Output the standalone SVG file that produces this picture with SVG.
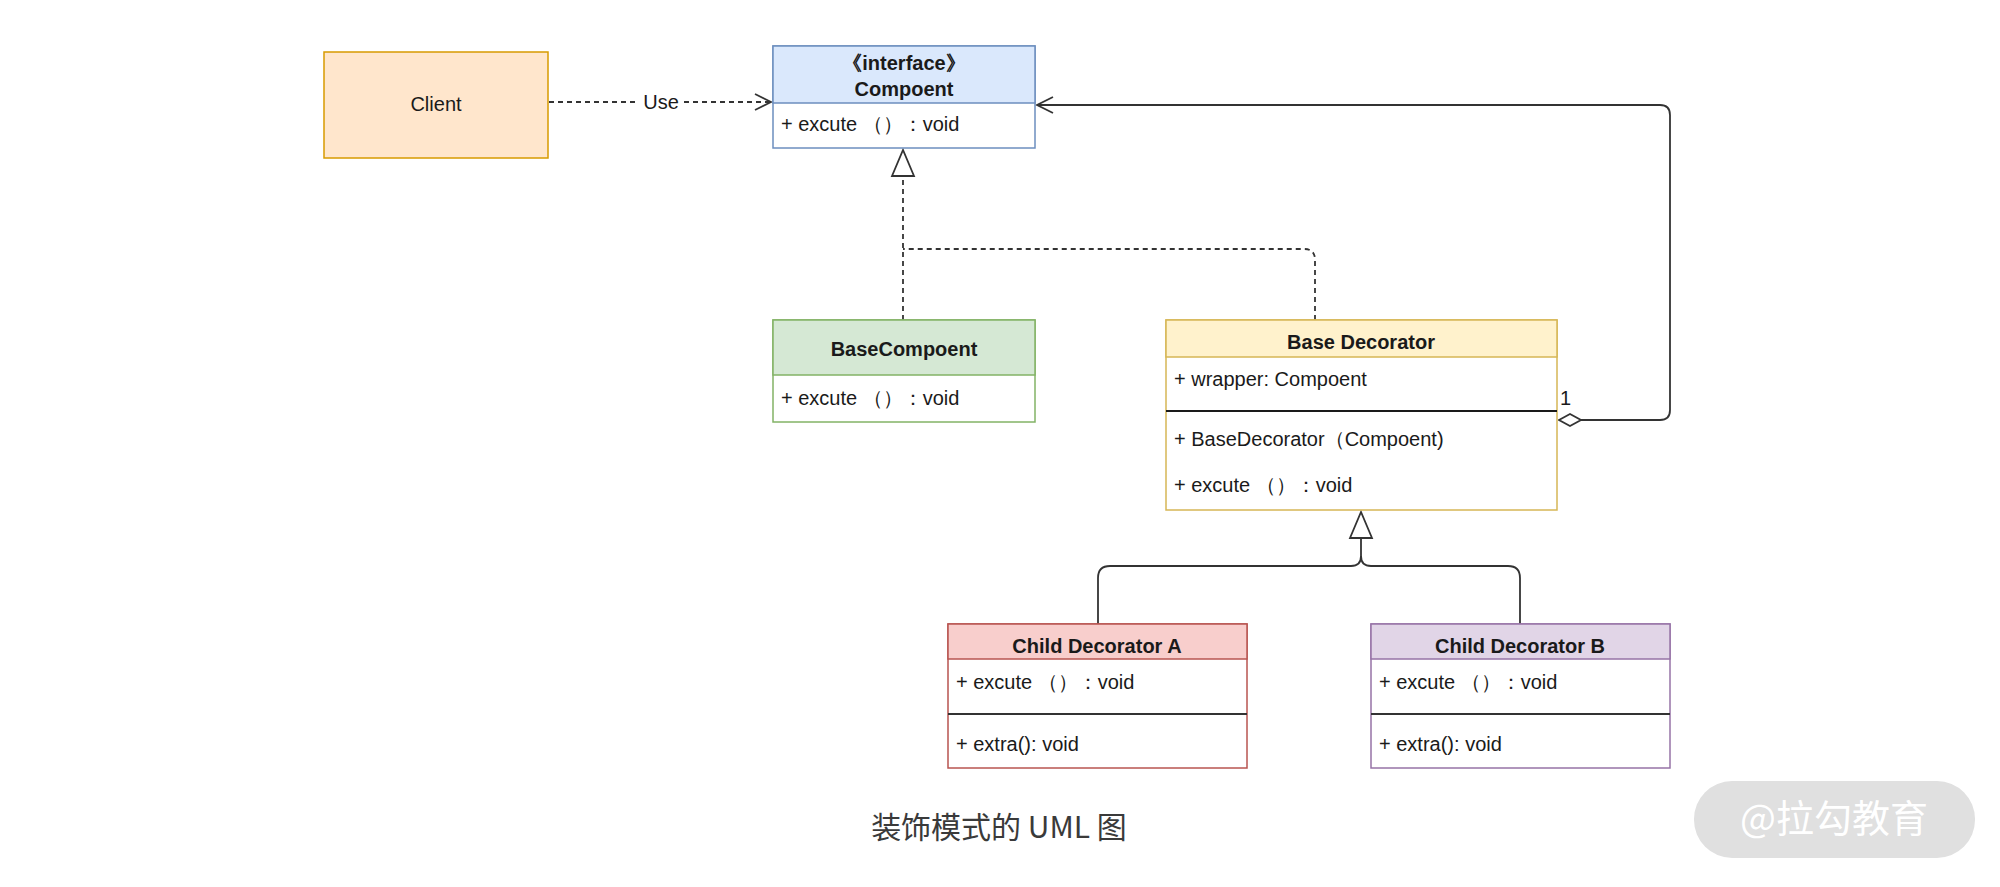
<svg xmlns="http://www.w3.org/2000/svg" width="2000" height="887" viewBox="0 0 2000 887">
<style>
text{font-family:"Liberation Sans",Arial,sans-serif;font-size:20px;fill:#1a1a1a}
.b{font-weight:bold;text-anchor:middle}
.c{text-anchor:middle}
.ln{fill:none;stroke:#333;stroke-width:1.8}
.d{stroke-dasharray:5 4}
</style>
<defs>
<marker id="open" viewBox="0 0 20 20" refX="18" refY="10" markerWidth="20" markerHeight="20" markerUnits="userSpaceOnUse" orient="auto"><path d="M2,2 L18,10 L2,18" fill="none" stroke="#333" stroke-width="1.8"/></marker>
<marker id="tri" viewBox="0 0 30 30" refX="28" refY="13" markerWidth="30" markerHeight="30" markerUnits="userSpaceOnUse" orient="auto"><path d="M2,2 L28,13 L2,24 Z" fill="#fff" stroke="#333" stroke-width="1.8"/></marker>
<marker id="dia" viewBox="0 0 30 16" refX="1" refY="8" markerWidth="30" markerHeight="16" markerUnits="userSpaceOnUse" orient="auto"><path d="M1,8 L12,2 L23,8 L12,14 Z" fill="#fff" stroke="#333" stroke-width="1.8"/></marker>
</defs>
<rect width="2000" height="887" fill="#fff"/>
<g id="connectors">
<path class="ln d" d="M549,102 H771" marker-end="url(#open)"/>
<rect x="639" y="90" width="44" height="24" fill="#fff"/>
<text x="661" y="109" class="c">Use</text>
<path class="ln d" d="M903,320 V150" marker-end="url(#tri)"/>
<path class="ln d" d="M1315,320 V260 Q1315,249 1304,249 H903"/>
<path class="ln" d="M1559,420 H1660 Q1670,420 1670,410 V115 Q1670,105 1660,105 H1037" marker-start="url(#dia)" marker-end="url(#open)"/>
<text x="1560" y="405">1</text>
<path class="ln" d="M1098,624 V578 Q1098,566 1110,566 H1351 Q1361,566 1361,556 V512" marker-end="url(#tri)"/>
<path class="ln" d="M1520,624 V578 Q1520,566 1508,566 H1371 Q1361,566 1361,556"/>
</g>
<g id="client"><rect x="324" y="52" width="224" height="106" fill="#ffe6cc" stroke="#d79b00" stroke-width="1.5"/><text x="436" y="111" class="c">Client</text></g>
<g id="compoent"><rect x="773" y="46" width="262" height="102" fill="#fff" stroke="#6c8ebf" stroke-width="1.5"/><rect x="773" y="46" width="262" height="57" fill="#dae8fc" stroke="#6c8ebf" stroke-width="1.5"/><text x="904" y="70" class="b">《interface》</text><text x="904" y="96" class="b">Compoent</text><text x="781" y="131">+ excute （）：void</text></g>
<g id="basecompoent"><rect x="773" y="320" width="262" height="102" fill="#fff" stroke="#82b366" stroke-width="1.5"/><rect x="773" y="320" width="262" height="55" fill="#d5e8d4" stroke="#82b366" stroke-width="1.5"/><text x="904" y="356" class="b">BaseCompoent</text><text x="781" y="405">+ excute （）：void</text></g>
<g id="basedecorator"><rect x="1166" y="320" width="391" height="190" fill="#fff" stroke="#d6b656" stroke-width="1.5"/><rect x="1166" y="320" width="391" height="37" fill="#fff2cc" stroke="#d6b656" stroke-width="1.5"/><text x="1361" y="349" class="b">Base Decorator</text><text x="1174" y="386">+ wrapper: Compoent</text><line x1="1166" y1="411" x2="1557" y2="411" stroke="#1a1a1a" stroke-width="1.8"/><text x="1174" y="446">+ BaseDecorator（Compoent)</text><text x="1174" y="492">+ excute （）：void</text></g>
<g id="childA"><rect x="948" y="624" width="299" height="144" fill="#fff" stroke="#b85450" stroke-width="1.5"/><rect x="948" y="624" width="299" height="35" fill="#f8cecc" stroke="#b85450" stroke-width="1.5"/><text x="1097" y="653" class="b">Child Decorator A</text><text x="956" y="689">+ excute （）：void</text><line x1="948" y1="714" x2="1247" y2="714" stroke="#333" stroke-width="1.8"/><text x="956" y="751">+ extra(): void</text></g>
<g id="childB"><rect x="1371" y="624" width="299" height="144" fill="#fff" stroke="#9673a6" stroke-width="1.5"/><rect x="1371" y="624" width="299" height="35" fill="#e1d5e7" stroke="#9673a6" stroke-width="1.5"/><text x="1520" y="653" class="b">Child Decorator B</text><text x="1379" y="689">+ excute （）：void</text><line x1="1371" y1="714" x2="1670" y2="714" stroke="#333" stroke-width="1.8"/><text x="1379" y="751">+ extra(): void</text></g>
<text x="999" y="838" class="c" style="font-family:'Noto Sans CJK SC','Noto Sans',sans-serif;font-size:30px;fill:#3a3a3a">装饰模式的 UML 图</text>
<rect x="1694" y="781" width="281" height="77" rx="38" fill="#e0e0e0"/>
<text x="1834" y="832" class="c" style="font-family:'Noto Sans CJK SC','Noto Sans',sans-serif;font-size:38px;fill:#fff">@拉勾教育</text>
</svg>
